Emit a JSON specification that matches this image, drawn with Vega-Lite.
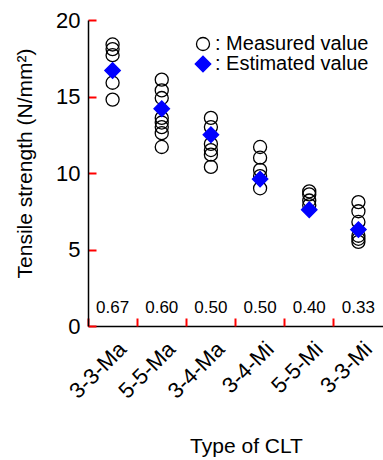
{
  "$schema": "https://vega.github.io/schema/vega-lite/v6.json",
  "width": 295,
  "height": 306,
  "autosize": {"type": "none"},
  "padding": {"left": 88, "top": 20, "right": 0, "bottom": 134},
  "config": {
    "view": {"stroke": null},
    "font": "Liberation Sans",
    "axis": {
      "domainColor": "black", "tickColor": "black", "labelColor": "black", "titleColor": "black",
      "domainWidth": 1.5, "tickWidth": 1.5, "grid": false, "titleFontWeight": "normal"
    },
    "legend": {
      "orient": "none", "legendX": 105, "legendY": 14, "title": null,
      "labelFontSize": 20, "labelColor": "black", "labelOffset": 2, "rowPadding": -2,
      "symbolStrokeWidth": 1.3, "padding": 0
    }
  },
  "datasets": {
    "points": [
      {"clt": "3-3-Ma", "kind": "Measured value", "value": 18.4},
      {"clt": "3-3-Ma", "kind": "Measured value", "value": 18.1},
      {"clt": "3-3-Ma", "kind": "Measured value", "value": 17.7},
      {"clt": "3-3-Ma", "kind": "Measured value", "value": 15.9},
      {"clt": "3-3-Ma", "kind": "Measured value", "value": 14.8},
      {"clt": "5-5-Ma", "kind": "Measured value", "value": 16.1},
      {"clt": "5-5-Ma", "kind": "Measured value", "value": 15.4},
      {"clt": "5-5-Ma", "kind": "Measured value", "value": 14.9},
      {"clt": "5-5-Ma", "kind": "Measured value", "value": 13.6},
      {"clt": "5-5-Ma", "kind": "Measured value", "value": 13.3},
      {"clt": "5-5-Ma", "kind": "Measured value", "value": 13.0},
      {"clt": "5-5-Ma", "kind": "Measured value", "value": 12.6},
      {"clt": "5-5-Ma", "kind": "Measured value", "value": 11.7},
      {"clt": "3-4-Ma", "kind": "Measured value", "value": 13.6},
      {"clt": "3-4-Ma", "kind": "Measured value", "value": 13.0},
      {"clt": "3-4-Ma", "kind": "Measured value", "value": 11.9},
      {"clt": "3-4-Ma", "kind": "Measured value", "value": 11.5},
      {"clt": "3-4-Ma", "kind": "Measured value", "value": 11.2},
      {"clt": "3-4-Ma", "kind": "Measured value", "value": 10.4},
      {"clt": "3-4-Mi", "kind": "Measured value", "value": 11.7},
      {"clt": "3-4-Mi", "kind": "Measured value", "value": 11.0},
      {"clt": "3-4-Mi", "kind": "Measured value", "value": 10.2},
      {"clt": "3-4-Mi", "kind": "Measured value", "value": 9.8},
      {"clt": "3-4-Mi", "kind": "Measured value", "value": 9.0},
      {"clt": "5-5-Mi", "kind": "Measured value", "value": 8.8},
      {"clt": "5-5-Mi", "kind": "Measured value", "value": 8.6},
      {"clt": "5-5-Mi", "kind": "Measured value", "value": 8.2},
      {"clt": "5-5-Mi", "kind": "Measured value", "value": 7.9},
      {"clt": "3-3-Mi", "kind": "Measured value", "value": 8.1},
      {"clt": "3-3-Mi", "kind": "Measured value", "value": 7.5},
      {"clt": "3-3-Mi", "kind": "Measured value", "value": 6.8},
      {"clt": "3-3-Mi", "kind": "Measured value", "value": 5.9},
      {"clt": "3-3-Mi", "kind": "Measured value", "value": 5.7},
      {"clt": "3-3-Mi", "kind": "Measured value", "value": 5.5},
      {"clt": "3-3-Ma", "kind": "Estimated value", "value": 16.7},
      {"clt": "5-5-Ma", "kind": "Estimated value", "value": 14.2},
      {"clt": "3-4-Ma", "kind": "Estimated value", "value": 12.5},
      {"clt": "3-4-Mi", "kind": "Estimated value", "value": 9.6},
      {"clt": "5-5-Mi", "kind": "Estimated value", "value": 7.6},
      {"clt": "3-3-Mi", "kind": "Estimated value", "value": 6.3}
    ],
    "ratios": [
      {"clt": "3-3-Ma", "ratio": "0.67"},
      {"clt": "5-5-Ma", "ratio": "0.60"},
      {"clt": "3-4-Ma", "ratio": "0.50"},
      {"clt": "3-4-Mi", "ratio": "0.50"},
      {"clt": "5-5-Mi", "ratio": "0.40"},
      {"clt": "3-3-Mi", "ratio": "0.33"}
    ]
  },
  "resolve": {"axis": {"x": "independent", "y": "independent"}},
  "layer": [
    {
      "data": {"name": "points"},
      "mark": {"type": "point", "strokeWidth": 1.3, "opacity": 1},
      "encoding": {
        "x": {
          "field": "clt", "type": "nominal",
          "scale": {
            "type": "band",
            "domain": ["3-3-Ma", "5-5-Ma", "3-4-Ma", "3-4-Mi", "5-5-Mi", "3-3-Mi"],
            "paddingInner": 0, "paddingOuter": -0.05, "align": 0
          },
          "axis": {
            "orient": "bottom",
            "title": "Type of CLT", "titleFontSize": 21, "titleX": 158, "titleY": 126,
            "titleBaseline": "alphabetic",
            "ticks": false, "labelPadding": 12, "labelOffset": 3,
            "labelAngle": -45, "labelFontSize": 22
          }
        },
        "y": {
          "field": "value", "type": "quantitative",
          "scale": {"domain": [0, 20], "nice": false},
          "axis": {
            "orient": "left",
            "values": [0, 5, 10, 15, 20], "title": "Tensile strength (N/mm²)",
            "titleFontSize": 21, "titleX": -63, "titleY": 143, "titleBaseline": "middle",
            "ticks": true, "tickSize": -8, "tickColor": "red", "tickWidth": 2, "labelPadding": 16, "labelFontSize": 22
          }
        },
        "shape": {
          "field": "kind", "type": "nominal",
          "scale": {"domain": ["Measured value", "Estimated value"], "range": ["circle", "diamond"]},
          "legend": {"labelExpr": "': ' + datum.label"}
        },
        "fill": {
          "field": "kind", "type": "nominal",
          "scale": {"domain": ["Measured value", "Estimated value"], "range": ["rgba(0,0,0,0)", "#0000ff"]},
          "legend": {"labelExpr": "': ' + datum.label"}
        },
        "stroke": {
          "field": "kind", "type": "nominal",
          "scale": {"domain": ["Measured value", "Estimated value"], "range": ["#000000", "#0000ff"]},
          "legend": {"labelExpr": "': ' + datum.label"}
        },
        "size": {
          "field": "kind", "type": "nominal",
          "scale": {"domain": ["Measured value", "Estimated value"], "range": [170, 240]},
          "legend": {"labelExpr": "': ' + datum.label"}
        }
      }
    },
    {
      "data": {"name": "ratios"},
      "mark": {"type": "text", "fontSize": 17, "color": "black", "baseline": "middle"},
      "encoding": {
        "x": {
          "field": "clt", "type": "nominal",
          "axis": {
            "orient": "bottom", "offset": -8, "title": null, "labels": true, "labelOpacity": 0,
            "domain": true, "domainOpacity": 0,
            "ticks": true, "bandPosition": 0, "tickSize": 8, "tickColor": "red", "tickWidth": 2
          }
        },
        "y": {
          "datum": 1.15, "type": "quantitative",
          "axis": null
        },
        "text": {"field": "ratio"}
      }
    }
  ]
}
